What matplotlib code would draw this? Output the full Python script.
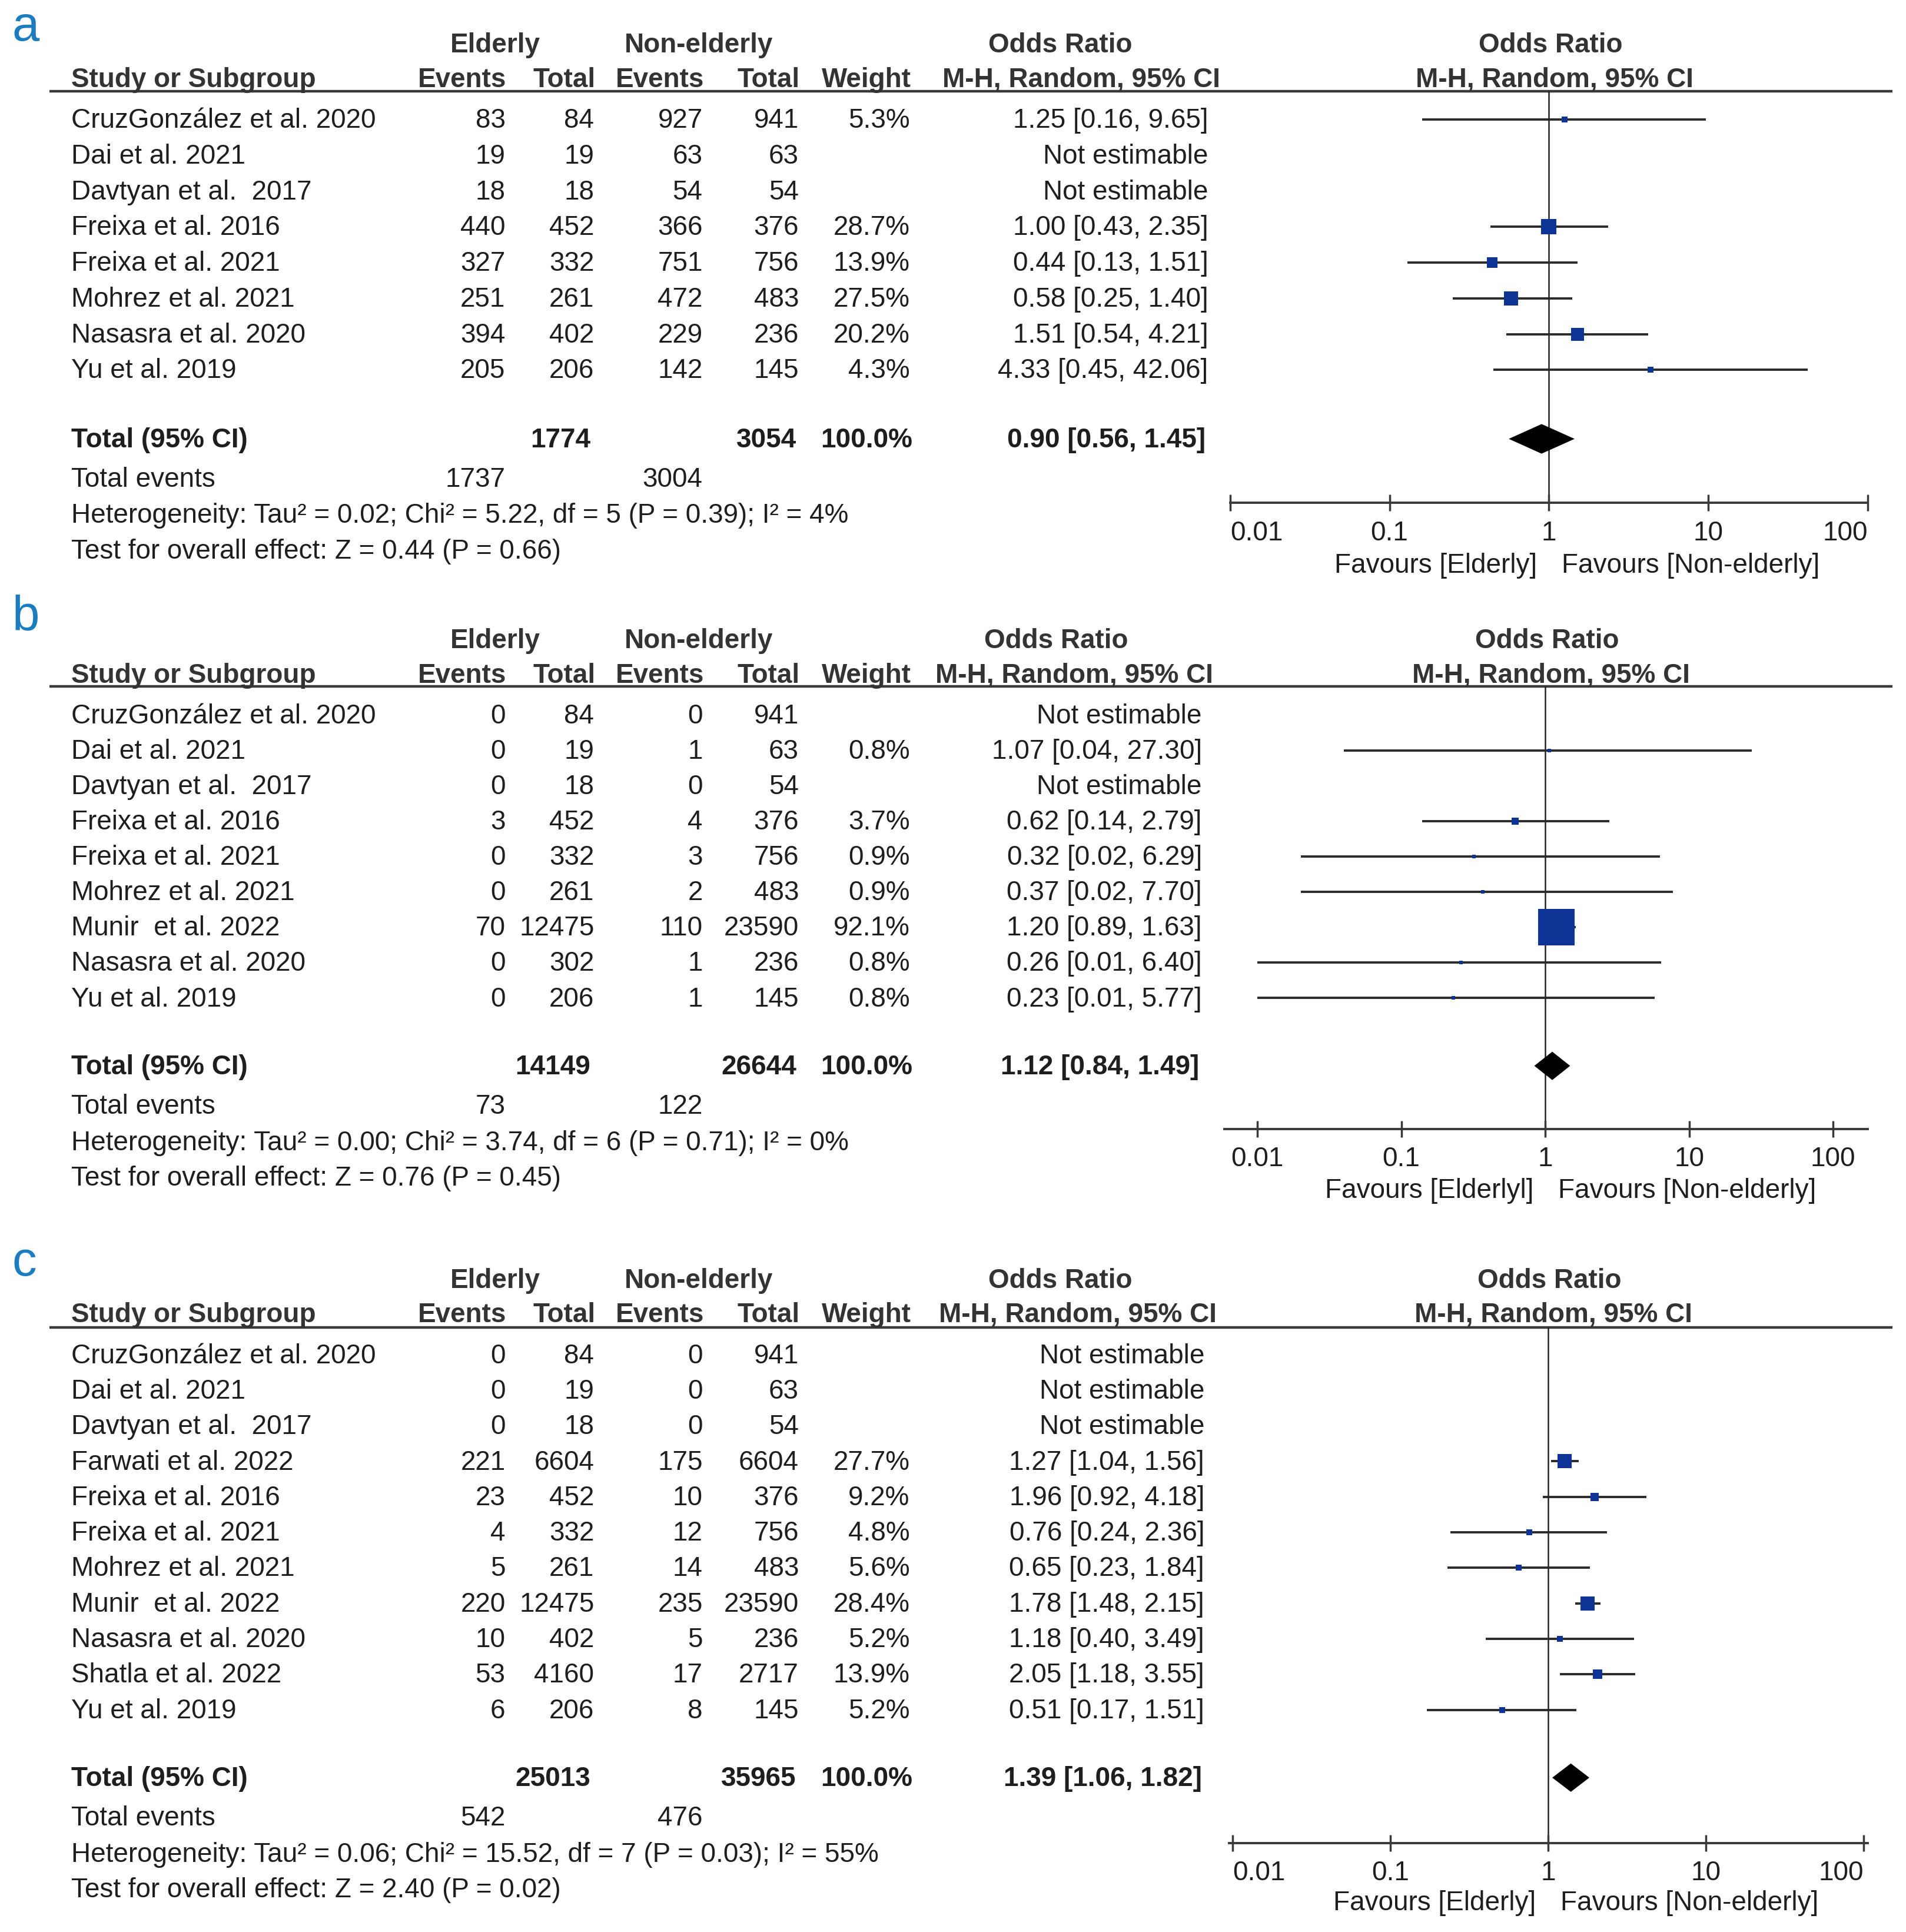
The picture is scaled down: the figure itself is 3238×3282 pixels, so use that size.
import matplotlib.pyplot as plt
from matplotlib import font_manager
from matplotlib.ticker import NullLocator

# ---- panel a ----
studies_a = ["CruzGonzález et al. 2020", "Dai et al. 2021", "Davtyan et al.  2017", "Freixa et al. 2016",
             "Freixa et al. 2021", "Mohrez et al. 2021", "Nasasra et al. 2020", "Yu et al. 2019"]
ev_eld_a = [83, 19, 18, 440, 327, 251, 394, 205]
tot_eld_a = [84, 19, 18, 452, 332, 261, 402, 206]
ev_non_a = [927, 63, 54, 366, 751, 472, 229, 142]
tot_non_a = [941, 63, 54, 376, 756, 483, 236, 145]
weight_a = [5.3, None, None, 28.7, 13.9, 27.5, 20.2, 4.3]
or_a = [1.25, None, None, 1.00, 0.44, 0.58, 1.51, 4.33]
lo_a = [0.16, None, None, 0.43, 0.13, 0.25, 0.54, 0.45]
hi_a = [9.65, None, None, 2.35, 1.51, 1.40, 4.21, 42.06]
pooled_a = [0.90, 0.56, 1.45]
het_a = "Heterogeneity: Tau² = 0.02; Chi² = 5.22, df = 5 (P = 0.39); I² = 4%"
test_a = "Test for overall effect: Z = 0.44 (P = 0.66)"
fav_a = ["Favours [Elderly]", "Favours [Non-elderly]"]

# ---- panel b ----
studies_b = ["CruzGonzález et al. 2020", "Dai et al. 2021", "Davtyan et al.  2017", "Freixa et al. 2016",
             "Freixa et al. 2021", "Mohrez et al. 2021", "Munir  et al. 2022", "Nasasra et al. 2020",
             "Yu et al. 2019"]
ev_eld_b = [0, 0, 0, 3, 0, 0, 70, 0, 0]
tot_eld_b = [84, 19, 18, 452, 332, 261, 12475, 302, 206]
ev_non_b = [0, 1, 0, 4, 3, 2, 110, 1, 1]
tot_non_b = [941, 63, 54, 376, 756, 483, 23590, 236, 145]
weight_b = [None, 0.8, None, 3.7, 0.9, 0.9, 92.1, 0.8, 0.8]
or_b = [None, 1.07, None, 0.62, 0.32, 0.37, 1.20, 0.26, 0.23]
lo_b = [None, 0.04, None, 0.14, 0.02, 0.02, 0.89, 0.01, 0.01]
hi_b = [None, 27.30, None, 2.79, 6.29, 7.70, 1.63, 6.40, 5.77]
pooled_b = [1.12, 0.84, 1.49]
het_b = "Heterogeneity: Tau² = 0.00; Chi² = 3.74, df = 6 (P = 0.71); I² = 0%"
test_b = "Test for overall effect: Z = 0.76 (P = 0.45)"
fav_b = ["Favours [Elderlyl]", "Favours [Non-elderly]"]

# ---- panel c ----
studies_c = ["CruzGonzález et al. 2020", "Dai et al. 2021", "Davtyan et al.  2017", "Farwati et al. 2022",
             "Freixa et al. 2016", "Freixa et al. 2021", "Mohrez et al. 2021", "Munir  et al. 2022",
             "Nasasra et al. 2020", "Shatla et al. 2022", "Yu et al. 2019"]
ev_eld_c = [0, 0, 0, 221, 23, 4, 5, 220, 10, 53, 6]
tot_eld_c = [84, 19, 18, 6604, 452, 332, 261, 12475, 402, 4160, 206]
ev_non_c = [0, 0, 0, 175, 10, 12, 14, 235, 5, 17, 8]
tot_non_c = [941, 63, 54, 6604, 376, 756, 483, 23590, 236, 2717, 145]
weight_c = [None, None, None, 27.7, 9.2, 4.8, 5.6, 28.4, 5.2, 13.9, 5.2]
or_c = [None, None, None, 1.27, 1.96, 0.76, 0.65, 1.78, 1.18, 2.05, 0.51]
lo_c = [None, None, None, 1.04, 0.92, 0.24, 0.23, 1.48, 0.40, 1.18, 0.17]
hi_c = [None, None, None, 1.56, 4.18, 2.36, 1.84, 2.15, 3.49, 3.55, 1.51]
pooled_c = [1.39, 1.06, 1.82]
het_c = "Heterogeneity: Tau² = 0.06; Chi² = 15.52, df = 7 (P = 0.03); I² = 55%"
test_c = "Test for overall effect: Z = 2.40 (P = 0.02)"
fav_c = ["Favours [Elderly]", "Favours [Non-elderly]"]

tick_vals = [0.01, 0.1, 1, 10, 100]
tick_labels = ["0.01", "0.1", "1", "10", "100"]

plt.rcParams['font.family'] = ['Liberation Sans', 'DejaVu Sans']
names = {f.name for f in font_manager.fontManager.ttflist}
letter_font = 'Liberation Sans Narrow' if 'Liberation Sans Narrow' in names else 'Liberation Sans'

FW, FH = 1546.2, 1567.2   # layout frame (image scaled by 0.4775)
FS = 33
TXT = '#1e1e1e'
HDR = '#333333'
LINE = '#3a3a3a'
BLUE = '#0d3394'

fig = plt.figure(figsize=(32.38, 32.82), dpi=100)
tab = fig.add_axes([0, 0, 1, 1])
tab.set_xlim(0, FW)
tab.set_ylim(FH, 0)
tab.axis('off')

cols = [410, 482, 570, 648, 738]


def panel(letter, lay, studies, ev_e, tot_e, ev_n, tot_n, weight, orv, lo, hi, pooled, het, test, fav):
    top = lay['hdr1']
    # panel letter
    tab.text(10, lay['letter'], letter, fontsize=60, color='#1b7dc0', family=letter_font,
             ha='left', va='baseline')
    # headers
    bold = dict(fontsize=FS, fontweight='bold', color=HDR, va='center')
    tab.text(402, top, 'Elderly', ha='center', **bold)
    tab.text(567, top, 'Non-elderly', ha='center', **bold)
    tab.text(lay['orhc'], top, 'Odds Ratio', ha='center', **bold)
    tab.text(lay['x1'] + 1, top, 'Odds Ratio', ha='center', **bold)
    h2 = lay['hdr2']
    tab.text(58, h2, 'Study or Subgroup', ha='left', **bold)
    for c, t in zip(cols, ['Events', 'Total', 'Events', 'Total', 'Weight']):
        tab.text(c + 1, h2, t, ha='right', **bold)
    tab.text(lay['orhr'], h2, 'M-H, Random, 95% CI', ha='right', **bold)
    tab.text(lay['x1'] + 4, h2, 'M-H, Random, 95% CI', ha='center', **bold)
    tab.plot([40, 1535], [lay['line'], lay['line']], color=LINE, lw=3.2, solid_capstyle='butt')

    # study rows
    reg = dict(fontsize=FS, color=TXT, va='center')
    ys = [lay['row0'] + i * lay['step'] for i in range(len(studies))]
    for i, y in enumerate(ys):
        tab.text(58, y + 1, studies[i], ha='left', **reg)
        for c, v in zip(cols, [ev_e[i], tot_e[i], ev_n[i], tot_n[i]]):
            tab.text(c, y + 1, str(v), ha='right', **reg)
        if weight[i] is not None:
            tab.text(cols[4], y + 1, f'{weight[i]:.1f}%', ha='right', **reg)
            tab.text(lay['orr'], y + 1, f'{orv[i]:.2f} [{lo[i]:.2f}, {hi[i]:.2f}]', ha='right', **reg)
        else:
            tab.text(lay['orr'], y + 1, 'Not estimable', ha='right', **reg)

    # totals
    ty = ys[-1] + lay['gap']
    tb = dict(fontsize=FS, fontweight='bold', color=TXT, va='center')
    tab.text(58, ty + 1, 'Total (95% CI)', ha='left', **tb)
    tab.text(cols[1] - 3, ty + 1, str(sum(tot_e)), ha='right', **tb)
    tab.text(cols[3] - 2, ty + 1, str(sum(tot_n)), ha='right', **tb)
    tab.text(cols[4] + 2, ty + 1, '100.0%', ha='right', **tb)
    tab.text(lay['orr'] - 2, ty + 1, f'{pooled[0]:.2f} [{pooled[1]:.2f}, {pooled[2]:.2f}]',
             ha='right', **tb)
    ey = ty + 33
    tab.text(58, ey, 'Total events', ha='left', **reg)
    tab.text(cols[0], ey, str(sum(ev_e)), ha='right', **reg)
    tab.text(cols[2], ey, str(sum(ev_n)), ha='right', **reg)
    tab.text(58, ey + 29.5, het, ha='left', **reg)
    tab.text(58, ey + 58.5, test, ha='left', **reg)

    # forest plot
    xl, xr, x001, x100 = lay['xl'], lay['xr'], lay['x001'], lay['x100']
    dec = (x100 - x001) / 4
    ax = fig.add_axes([xl / FW, 1 - lay['axis'] / FH, (xr - xl) / FW, (lay['axis'] - lay['line']) / FH])
    ax.patch.set_visible(False)
    ax.set_xscale('log')
    ax.set_xlim(10 ** (-2 - (x001 - xl) / dec), 10 ** (2 + (xr - x100) / dec))
    ax.set_ylim(lay['axis'], lay['line'])
    for s in ['top', 'left', 'right']:
        ax.spines[s].set_visible(False)
    ax.spines['bottom'].set_color(LINE)
    ax.spines['bottom'].set_linewidth(2.8)
    ax.set_xticks(tick_vals, labels=tick_labels)
    ax.xaxis.set_minor_locator(NullLocator())
    ax.tick_params(axis='x', direction='inout', length=20, width=2.5, color=LINE,
                   labelsize=FS, labelcolor=TXT, pad=11)
    if lay['inward']:
        tl = ax.get_xticklabels()
        tl[0].set_horizontalalignment('left')
        tl[-1].set_horizontalalignment('right')
    ax.set_yticks([])
    ax.axvline(1, color='#222222', lw=1.8, zorder=1)
    for i, y in enumerate(ys):
        if orv[i] is None:
            continue
        ax.plot([lo[i], hi[i]], [y, y], color='#2a2a2a', lw=2.8, solid_capstyle='butt', zorder=2)
        ax.plot([orv[i]], [y], marker='s', ms=lay['k'] * weight[i] ** 0.5, color=BLUE,
                mec=BLUE, mew=0, linestyle='none', zorder=3)
    dh = lay['dh'] / 2
    ax.fill([pooled[1], pooled[0], pooled[2], pooled[0]], [ty, ty - dh, ty, ty + dh],
            color='black', lw=0, zorder=3)
    fy = lay['axis'] + lay['fav']
    tab.text(lay['x1'] - 10, fy, fav[0], ha='right', fontsize=FS, color=TXT, va='center')
    tab.text(lay['x1'] + 10, fy, fav[1], ha='left', fontsize=FS, color=TXT, va='center')


lay_a = dict(letter=33, hdr1=37, hdr2=65, line=74, row0=97, step=29, gap=56, orr=980, orhr=990, orhc=860,
             xl=998, xr=1515, x001=998, x100=1515, x1=1257, axis=408, fav=51, k=3.4, dh=24, inward=True)
lay_b = dict(letter=511, hdr1=520, hdr2=548, line=557, row0=580, step=28.7, gap=55, orr=975, orhr=984,
             orhc=857, xl=993, xr=1515, x001=1020, x100=1487, x1=1254, axis=916, fav=50, k=4.7, dh=23,
             inward=False)
lay_c = dict(letter=1035, hdr1=1039, hdr2=1067, line=1077, row0=1099, step=28.8, gap=55, orr=977,
             orhr=987, orhc=860, xl=997, xr=1515, x001=1000, x100=1512, x1=1256, axis=1495, fav=49,
             k=3.2, dh=23, inward=True)

panel('a', lay_a, studies_a, ev_eld_a, tot_eld_a, ev_non_a, tot_non_a, weight_a, or_a, lo_a, hi_a,
      pooled_a, het_a, test_a, fav_a)
panel('b', lay_b, studies_b, ev_eld_b, tot_eld_b, ev_non_b, tot_non_b, weight_b, or_b, lo_b, hi_b,
      pooled_b, het_b, test_b, fav_b)
panel('c', lay_c, studies_c, ev_eld_c, tot_eld_c, ev_non_c, tot_non_c, weight_c, or_c, lo_c, hi_c,
      pooled_c, het_c, test_c, fav_c)

fig.savefig('out.png', dpi=100, facecolor='white')
